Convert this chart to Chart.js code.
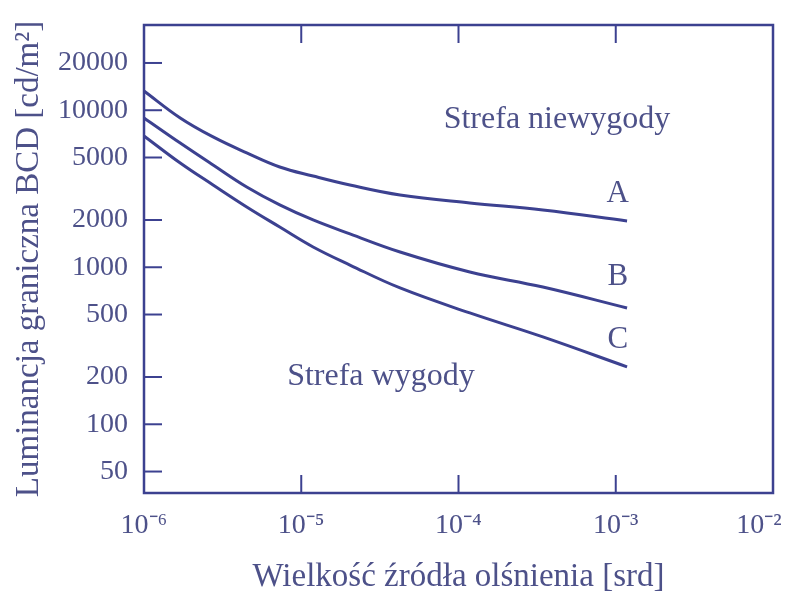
<!DOCTYPE html>
<html><head><meta charset="utf-8">
<script src="https://cdn.jsdelivr.net/npm/chart.js@4.4.0/dist/chart.umd.min.js"></script>
<style>html,body{margin:0;padding:0;background:#fff}#wrap{width:785px;height:597px}</style>
</head><body><div id="wrap"><canvas id="c" width="785" height="597"></canvas></div>
<script>
// ---- data ----
const xValues = [1e-6, 1.7e-6, 2.75e-6, 4.5e-6, 7.3e-6, 1.19e-5, 2.04e-5, 4.25e-5, 1.18e-4, 3.44e-4, 1.18e-3];
const seriesA = [13270, 8930, 6760, 5350, 4350, 3810, 3340, 2885, 2566, 2317, 1972];
const seriesB = [8930, 6180, 4480, 3245, 2495, 2000, 1630, 1250, 933, 748, 550];
const seriesC = [6860, 4610, 3340, 2420, 1803, 1346, 1033, 738, 512, 360, 232];
const yTickValues = [50, 100, 200, 500, 1000, 2000, 5000, 10000, 20000];
const xTickValues = [1e-6, 1e-5, 1e-4, 1e-3, 1e-2];
const xTickLabels = ['10⁻⁶', '10⁻⁵', '10⁻⁴', '10⁻³', '10⁻²\u2002\u2002'];
const curveNames = ['A', 'B', 'C'];
const curveLabelX = [1.03e-3, 1.03e-3, 1.03e-3];
const curveLabelY = [2605, 771, 306];
const zoneTexts = ['Strefa niewygody', 'Strefa wygody'];
const zoneX = [4.23e-4, 3.21e-5];
const zoneY = [7710, 178];
const xTitle = 'Wielkość źródła olśnienia [srd]';
const yTitle = 'Luminancja graniczna BCD [cd/m²]';

const lineColor = '#3c4190';
const textColor = '#4d5189';
const FONT = '"Liberation Serif", "Times New Roman", serif';

function pts(ys) { return xValues.map((x, i) => ({ x: x, y: ys[i] })); }
function ds(ys) {
  return { data: pts(ys), borderColor: lineColor, borderWidth: 3, pointRadius: 0,
           tension: 0.4, fill: false, clip: false };
}

const frame = {
  id: 'frame',
  afterDatasetsDraw(chart) {
    const { ctx, chartArea: a, scales: { x, y } } = chart;
    ctx.save();
    ctx.strokeStyle = lineColor;
    ctx.lineWidth = 2.5;
    ctx.strokeRect(a.left, a.top, a.right - a.left, a.bottom - a.top);
    ctx.lineWidth = 2;
    const seg = (x1, y1, x2, y2) => { ctx.beginPath(); ctx.moveTo(x1, y1); ctx.lineTo(x2, y2); ctx.stroke(); };
    yTickValues.forEach(v => { const py = y.getPixelForValue(v); seg(a.left, py, a.left + 18, py); });
    xTickValues.slice(1, -1).forEach(v => {
      const px = x.getPixelForValue(v);
      seg(px, a.top, px, a.top + 18);
      seg(px, a.bottom, px, a.bottom - 18);
    });
    ctx.fillStyle = textColor;
    ctx.textAlign = 'center';
    ctx.textBaseline = 'alphabetic';
    ctx.font = '31px ' + FONT;
    curveNames.forEach((n, i) => ctx.fillText(n, x.getPixelForValue(curveLabelX[i]), y.getPixelForValue(curveLabelY[i])));
    ctx.font = '32px ' + FONT;
    zoneTexts.forEach((t, i) => ctx.fillText(t, x.getPixelForValue(zoneX[i]), y.getPixelForValue(zoneY[i])));
    ctx.restore();
  }
};

new Chart(document.getElementById('c'), {
  type: 'line',
  data: { datasets: [ds(seriesA), ds(seriesB), ds(seriesC)] },
  options: {
    responsive: false,
    animation: false,
    devicePixelRatio: 1,
    layout: { padding: { left: 0, top: 25, right: 12, bottom: 0 } },
    plugins: { legend: { display: false }, tooltip: { enabled: false } },
    scales: {
      x: {
        type: 'logarithmic', min: 1e-6, max: 1e-2,
        grid: { display: false, drawTicks: false },
        border: { display: false },
        afterBuildTicks: s => { s.ticks = xTickValues.map(v => ({ value: v })); },
        afterFit: s => { s.height = 104; s.paddingLeft = 0; s.paddingRight = 0; },
        ticks: {
          autoSkip: false, maxRotation: 0, padding: 16,
          color: textColor, font: { family: FONT, size: 28 },
          callback: (v, i) => xTickLabels[i]
        },
        title: { display: true, text: xTitle, color: textColor,
                 font: { family: FONT, size: 33 }, padding: { top: 0, bottom: 0 } }
      },
      y: {
        type: 'logarithmic', min: 36.5, max: 34900,
        grid: { display: false, drawTicks: false },
        border: { display: false },
        afterBuildTicks: s => { s.ticks = yTickValues.map(v => ({ value: v })); },
        afterFit: s => { s.width = 144; s.paddingTop = 0; s.paddingBottom = 0; },
        ticks: {
          autoSkip: false, padding: 16,
          color: textColor, font: { family: FONT, size: 28 },
          callback: v => String(v)
        },
        title: { display: true, text: yTitle, color: textColor,
                 font: { family: FONT, size: 33 }, padding: { top: 10, bottom: 0 } }
      }
    }
  },
  plugins: [frame]
});
</script>
</body></html>
